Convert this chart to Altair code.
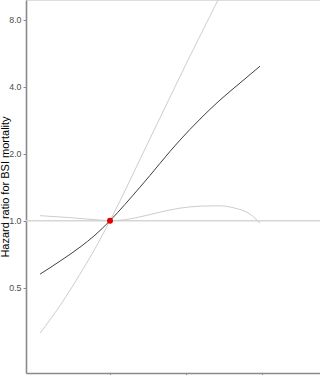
import altair as alt
import pandas as pd

# Estimated hazard ratio curve (x in arbitrary units; ticks at 1, 2, 3)
hr_x = [0.077, 0.340, 0.604, 0.802, 1.0, 1.396, 1.923, 2.451, 2.715, 2.979]
hr_y = [0.575, 0.658, 0.760, 0.861, 1.0, 1.414, 2.30, 3.48, 4.15, 4.94]

# Confidence band limits
ci_a_x = [0.077, 0.380, 0.604, 0.828, 1.0, 1.528, 2.029, 2.425, 2.715, 2.979]
ci_a_y = [0.312, 0.435, 0.575, 0.776, 1.0, 2.336, 5.26, 9.79, 15.4, 23.3]

ci_b_x = [0.077, 0.472, 0.802, 1.0, 1.198, 1.396, 1.660, 1.923, 2.187, 2.425, 2.649, 2.847, 2.979]
ci_b_y = [1.053, 1.032, 1.010, 1.0, 1.010, 1.040, 1.092, 1.138, 1.162, 1.166, 1.138, 1.070, 0.974]

ref_x = [1.0]
ref_y = [1.0]

y_ticks = [0.5, 1.0, 2.0, 4.0, 8.0]
x_ticks = [1, 2, 3]

hr_df = pd.DataFrame({"x": hr_x, "y": hr_y})
ca_df = pd.DataFrame({"x": ci_a_x, "y": ci_a_y})
cb_df = pd.DataFrame({"x": ci_b_x, "y": ci_b_y})
ref_df = pd.DataFrame({"x": ref_x, "y": ref_y})

xscale = alt.Scale(domain=[-0.108, 3.77], nice=False, zero=False)
yscale = alt.Scale(type="log", domain=[0.207, 9.79], nice=False)

xaxis = alt.Axis(values=x_ticks, labels=False, title=None, grid=False,
                 domainColor="#8a8a8a", domainWidth=1.6, tickColor="#8a8a8a",
                 tickSize=3, tickWidth=1)
yaxis = alt.Axis(values=y_ticks, format=".1f", title="Hazard ratio for BSI mortality",
                 grid=False, domainColor="#8a8a8a", domainWidth=1.6,
                 tickColor="#8a8a8a", tickSize=3, tickWidth=1,
                 labelColor="#4d4d4d", labelFontSize=8.8, labelFont="Liberation Sans",
                 labelPadding=2,
                 titleColor="#000000", titleFontSize=11, titleFont="Liberation Sans",
                 titleFontWeight="normal", titleX=-20.5, titleY=186.5,
                 titleBaseline="middle", titleAngle=270)

base_x = alt.X("x:Q", scale=xscale, axis=xaxis)
base_y = alt.Y("y:Q", scale=yscale, axis=yaxis)

refline = alt.Chart(ref_df).mark_rule(color="#d6d6d6", strokeWidth=1.5).encode(
    y=alt.Y("y:Q", scale=yscale)
)

ci_a = alt.Chart(ca_df).mark_line(color="#cdcdcd", strokeWidth=1, clip=True,
                                  interpolate="monotone").encode(x=base_x, y=base_y)
ci_b = alt.Chart(cb_df).mark_line(color="#cdcdcd", strokeWidth=1, clip=True,
                                  interpolate="monotone").encode(
    x=alt.X("x:Q", scale=xscale), y=alt.Y("y:Q", scale=yscale))
hr = alt.Chart(hr_df).mark_line(color="#404040", strokeWidth=1, clip=True,
                                interpolate="monotone").encode(
    x=alt.X("x:Q", scale=xscale), y=alt.Y("y:Q", scale=yscale))
pt = alt.Chart(ref_df).mark_circle(color="#e00000", size=36, opacity=1).encode(
    x=alt.X("x:Q", scale=xscale), y=alt.Y("y:Q", scale=yscale))

chart = alt.layer(refline, ci_a, ci_b, hr, pt).properties(
    width=294, height=373,
    autosize=alt.AutoSizeParams(type="none"),
    padding={"left": 26, "top": 0, "right": 0, "bottom": 2},
).configure_view(stroke=None).configure(background="white")

chart.save("out.html", embed_options={"renderer": "svg", "actions": False})
